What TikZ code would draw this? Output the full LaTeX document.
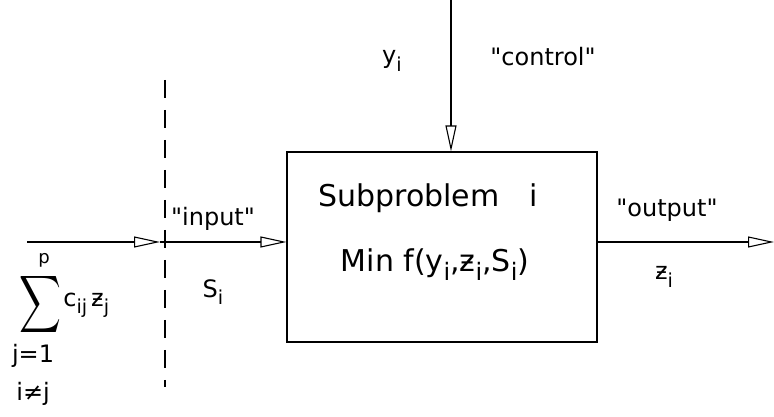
\documentclass[tikz,border=0pt]{standalone}
\usepackage{fontspec}
\setmainfont{DejaVu Sans}
\usetikzlibrary{arrows.meta,positioning}

% near full-size lowered index, as written by hand
\newcommand{\lowidx}[1]{\raisebox{-0.3em}{\scalebox{0.8}{#1}}}

\tikzset{
  flow/.style={line width=1.1pt, -{Triangle[open,length=26pt,width=11pt]}},
  lbl/.style={inner sep=1pt, font=\fontsize{24}{26}\selectfont},
  boxtext/.style={inner sep=1pt, font=\fontsize{30}{32}\selectfont},
}

\begin{document}
\begin{tikzpicture}[x=1pt, y=1pt]
    \useasboundingbox (0,0) rectangle (774,417);

    % Subproblem box
    \node[draw, line width=1.1pt, minimum width=310pt, minimum height=190pt] (sub) at (442,170) {};
    \node[boxtext] (subname) at (428,219) {Subproblem\quad i};
    \node[boxtext] (subobj) at (435,152) {Min f(y\lowidx{i},ƶ\lowidx{i},S\lowidx{i})};

    % Control from above
    \coordinate (ctrltop) at (451,417);
    \draw[flow] (ctrltop) -- (sub.north -| ctrltop);
    \node[lbl] (ctrlvar) at (392,356) {y\lowidx{i}};
    \node[lbl] (ctrltxt) at (543,360) {\textquotedbl control\textquotedbl};

    % Input through the cut
    \coordinate (instart) at (27,175);
    \coordinate (cut) at (160,175);
    \draw[flow] (instart) -- (cut);
    \draw[flow] (cut) -- (sub.west |- cut);
    \node[lbl] (intxt) at (213,198) {\textquotedbl input\textquotedbl};
    \node[lbl] (invar) at (213,125) {S\lowidx{i}};

    % Dashed cut line
    \coordinate (cuttop) at (165,337);
    \coordinate (cutbot) at (165,30);
    \draw[line width=1.1pt, dash pattern=on 18pt off 12pt] (cuttop) -- (cutbot);

    % Output
    \coordinate (outend) at (774,175);
    \draw[flow] (sub.east |- outend) -- (outend);
    \node[lbl] (outtxt) at (667,207) {\textquotedbl output\textquotedbl};
    \node[lbl] (outvar) at (664,140) {ƶ\lowidx{i}};

    % Sum of the other outputs
    \node[inner sep=0pt] (sigma) at (40,112) {\scalebox{2.9}[4]{$\displaystyle\sum$}};
    \node[inner sep=0pt, font=\fontsize{18}{20}\selectfont, above=5pt of sigma, xshift=4pt] (sumtop) {p};
    \node[lbl, right=1pt of sigma] (sumterm) {c\lowidx{ij}\,ƶ\lowidx{j}};
    \node[lbl, below=6pt of sigma.south west, anchor=north west, xshift=-8pt] (sumlow) {j=1};
    \node[lbl, below=12pt of sumlow] (sumcond) {i≠j};

\end{tikzpicture}
\end{document}
